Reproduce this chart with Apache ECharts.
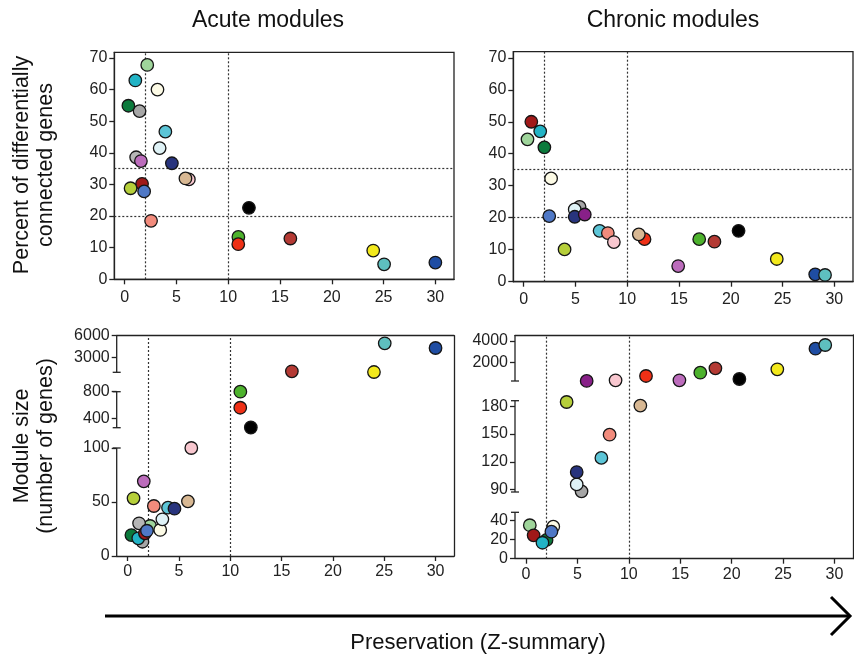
<!DOCTYPE html>
<html><head><meta charset="utf-8">
<script src="https://cdn.jsdelivr.net/npm/echarts@6/dist/echarts.min.js"></script>
<style>html,body{margin:0;padding:0;background:#fff}#c{width:854px;height:661px}</style>
</head><body><div id="c"></div>
<script>
// ---------------- DATA ----------------
const acuteModules = ['lightgreen','grey60','darkgreen','darkturquoise','lightyellow','skyblue','lightcyan','darkgrey','plum','midnightblue','pink','tan','darkred','greenyellow','royalblue','salmon','black','green','red','brown','yellow','turquoise','blue'];
const acuteZ       = [2.18, 1.44, 0.36, 1.03, 3.17, 3.93, 3.38, 1.11, 1.57, 4.56, 6.2, 5.87, 1.68, 0.57, 1.88, 2.55, 12.0, 10.98, 10.97, 16.0, 24.0, 25.05, 30.0];
const acutePct     = [67.8, 53.2, 54.9, 62.9, 60.0, 46.7, 41.5, 38.6, 37.4, 36.7, 31.6, 31.9, 30.2, 28.8, 27.8, 18.5, 22.6, 13.4, 11.1, 12.9, 9.1, 4.75, 5.3];
const acuteSize    = [27.8, 13.2, 19.4, 16.4, 24.1, 44.7, 34.0, 30.3, 69.1, 43.8, 100, 50.6, 21, 53.4, 23.4, 46.3, 262, 800, 559, 1055, 958, 4945, 4292];

const chronicModules = ['lightgreen','darkred','darkgreen','darkturquoise','lightyellow','royalblue','grey60','lightcyan','midnightblue','purple','greenyellow','skyblue','salmon','pink','red','tan','plum','green','brown','black','yellow','blue','turquoise'];
const chronicZ       = [0.37, 0.74, 2.0, 1.6, 2.65, 2.47, 5.4, 4.93, 4.93, 5.9, 3.95, 7.33, 8.13, 8.71, 11.67, 11.12, 14.92, 16.95, 18.42, 20.75, 24.44, 28.15, 29.1];
const chronicPct     = [44.5, 50.0, 42.0, 47.0, 32.3, 20.5, 23.4, 22.6, 20.3, 21.0, 10.1, 15.9, 15.2, 12.4, 13.3, 14.8, 4.9, 13.3, 12.5, 15.9, 7.1, 2.3, 2.1];
const chronicSize    = [35.2, 24.6, 19.7, 16.8, 33.7, 28.4, 88.2, 95.7, 109, 250, 184.6, 124.3, 149.3, 310, 714, 180.7, 310, 1024, 1437, 432, 1343, 3277, 3624];

const xTicks = [0, 5, 10, 15, 20, 25, 30];
const pctTicks = [0, 10, 20, 30, 40, 50, 60, 70];
const acuteSizeTicks = [[0, 50, 100], [400, 800], [3000, 6000]];
const chronicSizeTicks = [[0, 20, 40], [90, 120, 150, 180], [2000, 4000]];
const zThresholds = [2, 10];
const pctThresholds = [20, 35];

// axis segment ranges of the broken "module size" axes
const acuteSegRange = [[0, 100], [259, 800], [917, 6000]];
const chronicSegRange = [[0, 48.8], [87.5, 186], [244, 4563]];

// ---------------- STYLE ----------------
const moduleColors = {
  lightgreen:'#9fd59b', grey60:'#a6a6a6', darkgreen:'#0b7a3c', darkturquoise:'#22b3c5', lightyellow:'#fdfbe6',
  skyblue:'#5cc5d7', lightcyan:'#dff2f6', darkgrey:'#b6b6b6', plum:'#bc6cbc', midnightblue:'#28347d',
  pink:'#f8c7cf', tan:'#d8b893', darkred:'#a01919', greenyellow:'#b6cf3a', royalblue:'#4f78c6',
  salmon:'#f28b7c', black:'#000000', green:'#4db22d', red:'#ef3016', brown:'#b43a34',
  yellow:'#f3e91c', turquoise:'#5ebfbf', blue:'#1f4da3', purple:'#882088'
};
const FONT = 'Liberation Sans, Arial, Helvetica, sans-serif';
const AX = '#222';
const lineSt = {color: AX, width: 1.3};
const lbl = {color: '#222', fontSize: 16, fontFamily: FONT, formatter: v => String(v)};

const TL = {left:114.3, top:52.3, width:339.7, height:227};
const TR = {left:513.3, top:51.7, width:339.7, height:230};
const BLframe = {left:116.7, top:335.7, width:337.3, height:220.3};
const BRframe = {left:515, top:335, width:338, height:223.7};
const BLsegs = [[448, 556], [391.7, 427.7], [335.7, 372.3]];
const BRsegs = [[512.3, 558.7], [400.7, 492], [335, 381]];

const grids = [], xAxes = [], yAxes = [], series = [], graphics = [];

function addGrid(g, border) {
  grids.push(Object.assign({show: !!border, borderColor: AX, borderWidth: 1.3, backgroundColor:'transparent', containLabel:false, outerBoundsMode:'none'}, g));
  return grids.length - 1;
}
function xVisible(gi, xmin, margin) {
  xAxes.push({type:'value', gridIndex:gi, min:xmin, max:31.8, position:'bottom',
    axisLine:{show:true, onZero:false, lineStyle:lineSt},
    axisTick:{show:true, length:5, customValues:xTicks, lineStyle:lineSt},
    axisLabel:Object.assign({show:true, margin:margin, customValues:xTicks}, lbl),
    splitLine:{show:false}});
  return xAxes.length - 1;
}
function xTopLine(gi, xmin) {
  xAxes.push({type:'value', gridIndex:gi, min:xmin, max:31.8, position:'top',
    axisLine:{show:true, onZero:false, lineStyle:lineSt}, axisTick:{show:false}, axisLabel:{show:false}, splitLine:{show:false}});
  return xAxes.length - 1;
}
function xHidden(gi, xmin) {
  xAxes.push({type:'value', gridIndex:gi, min:xmin, max:31.8, show:false, splitLine:{show:false}});
  return xAxes.length - 1;
}
function yLeft(gi, min, max, ticks, showLine) {
  yAxes.push({type:'value', gridIndex:gi, min:min, max:max, position:'left',
    axisLine:{show:showLine, onZero:false, lineStyle:lineSt},
    axisTick:{show:true, length:5, customValues:ticks, lineStyle:lineSt},
    axisLabel:Object.assign({show:true, margin:7, customValues:ticks}, lbl),
    splitLine:{show:false}});
  return yAxes.length - 1;
}
function yRightLine(gi) {
  yAxes.push({type:'value', gridIndex:gi, min:0, max:1, position:'right',
    axisLine:{show:true, onZero:false, lineStyle:lineSt}, axisTick:{show:false}, axisLabel:{show:false}, splitLine:{show:false}});
  return yAxes.length - 1;
}
function guideLines(xi, yi, withH) {
  const d = zThresholds.map(v => ({xAxis: v}));
  if (withH) pctThresholds.forEach(v => d.push({yAxis: v}));
  series.push({type:'scatter', xAxisIndex:xi, yAxisIndex:yi, data:[], z:1, silent:true,
    markLine:{silent:true, symbol:['none','none'], label:{show:false}, animation:false,
      lineStyle:{type:[2,2], color:'#333', width:1.2}, data:d}});
}
function points(xi, yi, names, xs, ys, range) {
  const data = [];
  names.forEach((n, i) => {
    const y = ys[i];
    if (range && (y < range[0] - 1e-9 || y > range[1] + 1e-9)) return;
    data.push({name:n, value:[xs[i], y], itemStyle:{color:moduleColors[n]}});
  });
  series.push({type:'scatter', xAxisIndex:xi, yAxisIndex:yi, data:data, z:5, clip:false,
    symbol:'circle', symbolSize:12.5, itemStyle:{borderColor:'#151515', borderWidth:1.3, opacity:1},
    emphasis:{disabled:true}});
}
function seg(x1, y1, x2, y2) {
  graphics.push({type:'line', silent:true, z:10, shape:{x1:x1, y1:y1, x2:x2, y2:y2}, style:{stroke:AX, lineWidth:1.3}});
}

// ---- top-left: acute percent
{
  const gi = addGrid(TL, true);
  const xi = xVisible(gi, -1, 10);
  const yi = yLeft(gi, 0, 71.8, pctTicks, true);
  guideLines(xi, yi, true);
  points(xi, yi, acuteModules, acuteZ, acutePct, null);
}
// ---- top-right: chronic percent
{
  const gi = addGrid(TR, true);
  const xi = xVisible(gi, -1, 10);
  const yi = yLeft(gi, 0, 71.9, pctTicks, true);
  guideLines(xi, yi, true);
  points(xi, yi, chronicModules, chronicZ, chronicPct, null);
}
// ---- bottom panels with broken axis
function brokenPanel(frame, segs, ranges, tickSets, names, xs, ys) {
  const fg = addGrid(frame, false);
  const xi = xVisible(fg, -1.07, 8);
  xTopLine(fg, -1.07);
  const yr = yRightLine(fg);
  guideLines(xi, yr, false);
  segs.forEach((s, k) => {
    const g = addGrid({left:frame.left, width:frame.width, top:s[0], height:s[1]-s[0]}, false);
    const sx = xHidden(g, -1.07);
    const sy = yLeft(g, ranges[k][0], ranges[k][1], tickSets[k], false);
    points(sx, sy, names, xs, ys, ranges[k]);
    // broken-axis segment line with end caps
    const L = frame.left;
    seg(L, s[0], L, s[1]);
    if (k < segs.length - 1) seg(L - 4, s[0], L + 4, s[0]);
    if (k > 0) seg(L - 4, s[1], L + 4, s[1]);
  });
}
brokenPanel(BLframe, BLsegs, acuteSegRange, acuteSizeTicks, acuteModules, acuteZ, acuteSize);
brokenPanel(BRframe, BRsegs, chronicSegRange, chronicSizeTicks, chronicModules, chronicZ, chronicSize);

// ---- texts and arrow
function txt(t, x, y, size, rot) {
  return {type:'text', x:x, y:y, rotation:rot||0, silent:true,
    style:{text:t, fill:'#111', font: size + 'px ' + FONT, align:'center', verticalAlign:'middle',
      textAlign:'center', textVerticalAlign:'middle'}};
}
graphics.push(
  txt('Acute modules', 268, 21, 23),
  txt('Chronic modules', 673, 21, 23),
  txt('Percent of differentially', 22, 165, 21.5, Math.PI/2),
  txt('connected genes', 46, 165, 21.5, Math.PI/2),
  txt('Module size', 22, 446, 21.5, Math.PI/2),
  txt('(number of genes)', 46, 446, 21.5, Math.PI/2),
  txt('Preservation (Z-summary)', 478, 643, 22),
  {type:'line', silent:true, shape:{x1:105, y1:616, x2:849, y2:616}, style:{stroke:'#000', lineWidth:3}},
  {type:'polyline', silent:true, shape:{points:[[831,597],[850,616],[831,635]]}, style:{stroke:'#000', lineWidth:3, fill:null}}
);

const chart = echarts.init(document.getElementById('c'), null, {renderer:'canvas', width:854, height:661});
chart.setOption({
  animation:false,
  backgroundColor:'#ffffff',
  textStyle:{fontFamily:FONT},
  grid:grids, xAxis:xAxes, yAxis:yAxes, series:series, graphic:graphics
});
</script></body></html>
